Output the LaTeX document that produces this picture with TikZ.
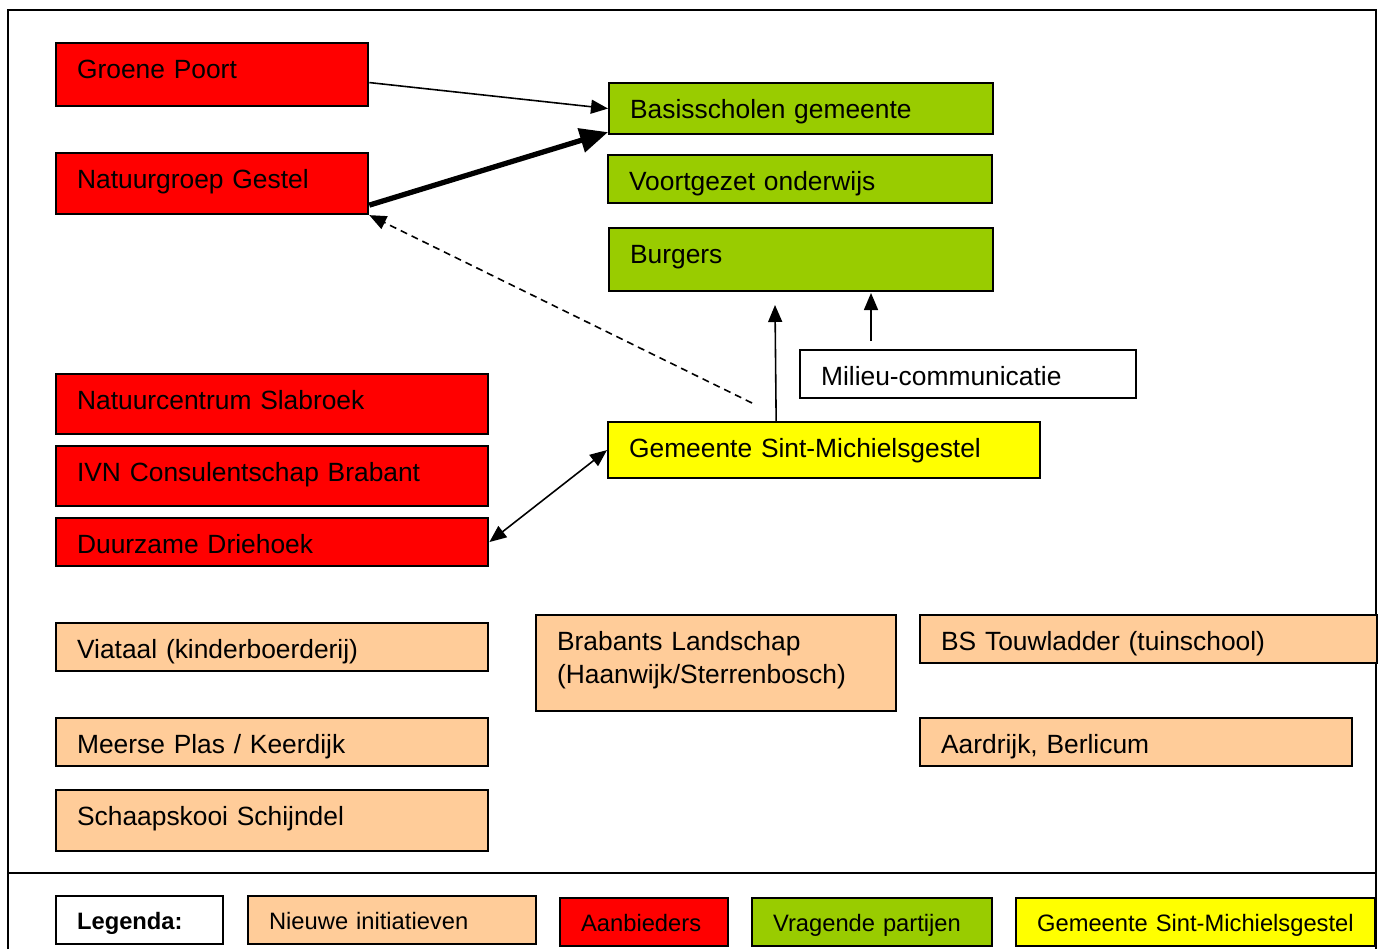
\documentclass[tikz,border=0pt]{standalone}
\usepackage{fontspec}
\setmainfont{Liberation Sans}
\usetikzlibrary{arrows.meta}
\definecolor{aanbod}{HTML}{FF0000}
\definecolor{vraag}{HTML}{99CC00}
\definecolor{gemeente}{HTML}{FFFF00}
\definecolor{nieuw}{HTML}{FFCC99}

\begin{document}
\begin{tikzpicture}[x=0.01cm,y=-0.01cm,
  kader/.style={draw,line width=0.6pt,anchor=north west,inner xsep=0.21cm,inner ysep=0pt,
    align=left,text height=0.355cm,font=\fontsize{7.5}{9.4}\selectfont},
  legenda/.style={kader,text height=0.335cm,text depth=0.145cm,font=\fontsize{6.75}{8}\selectfont},
  pijl/.style={-{Triangle[length=0.17cm,width=0.14cm]},line width=0.45pt},
  dikpijl/.style={-{Triangle[length=0.28cm,width=0.24cm]},line width=1.5pt},
  dubbelpijl/.style={{Triangle[length=0.17cm,width=0.14cm]}-{Triangle[length=0.17cm,width=0.14cm]},line width=0.45pt}]
\useasboundingbox (0,0) rectangle (1383,949);
\draw[line width=0.6pt] (8,949) -- (8,10) -- (1376,10) -- (1376,949);
\draw[line width=0.6pt] (8,873) -- (1376,873);
\node[kader,fill=aanbod,text width=2.70cm,text depth=0.275cm] (gp) at (55,42) {Groene Poort};
\node[kader,fill=aanbod,text width=2.70cm,text depth=0.255cm] (ng) at (55,152) {Natuurgroep Gestel};
\node[kader,fill=vraag,text width=3.42cm,text depth=0.155cm] (bs) at (608,82) {Basisscholen gemeente};
\node[kader,fill=vraag,text width=3.42cm,text depth=0.125cm] (vo) at (607,154) {Voortgezet onderwijs};
\node[kader,fill=vraag,text width=3.42cm,text depth=0.275cm] (bu) at (608,227) {Burgers};
\node[kader,fill=white,text width=2.94cm,text depth=0.125cm] (mc) at (799,349) {Milieu-communicatie};
\node[kader,fill=gemeente,text width=3.90cm,text depth=0.205cm] (gem) at (607,421) {Gemeente Sint-Michielsgestel};
\node[kader,fill=aanbod,text width=3.90cm,text depth=0.245cm] (nc) at (55,373) {Natuurcentrum Slabroek};
\node[kader,fill=aanbod,text width=3.90cm,text depth=0.245cm] (ivn) at (55,445) {IVN Consulentschap Brabant};
\node[kader,fill=aanbod,text width=3.90cm,text depth=0.125cm] (dd) at (55,517) {Duurzame Driehoek};
\node[kader,fill=nieuw,text width=3.90cm,text depth=0.125cm] (via) at (55,622) {Viataal (kinderboerderij)};
\node[kader,fill=nieuw,text width=3.18cm,text depth=0.605cm] (bl) at (535,614) {Brabants Landschap\\(Haanwijk/Sterrenbosch)};
\node[kader,fill=nieuw,text width=4.15cm,text depth=0.125cm] (bst) at (919,614) {BS Touwladder (tuinschool)};
\node[kader,fill=nieuw,text width=3.90cm,text depth=0.125cm] (mp) at (55,717) {Meerse Plas / Keerdijk};
\node[kader,fill=nieuw,text width=3.90cm,text depth=0.125cm] (aa) at (919,717) {Aardrijk, Berlicum};
\node[kader,fill=nieuw,text width=3.90cm,text depth=0.255cm] (sk) at (55,789) {Schaapskooi Schijndel};
\node[legenda,fill=white,text width=1.25cm] (lg) at (55,895) {\textbf{Legenda:}};
\node[legenda,fill=nieuw,text width=2.46cm] (ln) at (247,895) {Nieuwe initiatieven};
\node[legenda,fill=aanbod,text width=1.26cm] (la) at (559,897) {Aanbieders};
\node[legenda,fill=vraag,text width=1.98cm] (lv) at (751,897) {Vragende partijen};
\node[legenda,fill=gemeente,text width=3.17cm] (lgem) at (1015,897) {\mbox{Gemeente Sint-Michielsgestel}};
\draw[pijl] ([yshift=-0.08cm]gp.east) -- (bs.west);
\draw[dikpijl] ([yshift=0.1cm]ng.south east) -- ([yshift=0.03cm]bs.south west);
\coordinate (st) at (752,403);
\draw[pijl,dash pattern=on 0.07cm off 0.05cm] (st) -- (ng.south east);
\coordinate (bu1) at (775,305);
\draw[pijl] ([xshift=-0.48cm]gem.north) -- (bu1);
\coordinate (mc1) at (871,341);
\coordinate (mc2) at (871,293);
\draw[pijl] (mc1) -- (mc2);
\draw[dubbelpijl] (dd.east) -- (gem.west);
%\node at (790,0) {titel};
\end{tikzpicture}
\end{document}
